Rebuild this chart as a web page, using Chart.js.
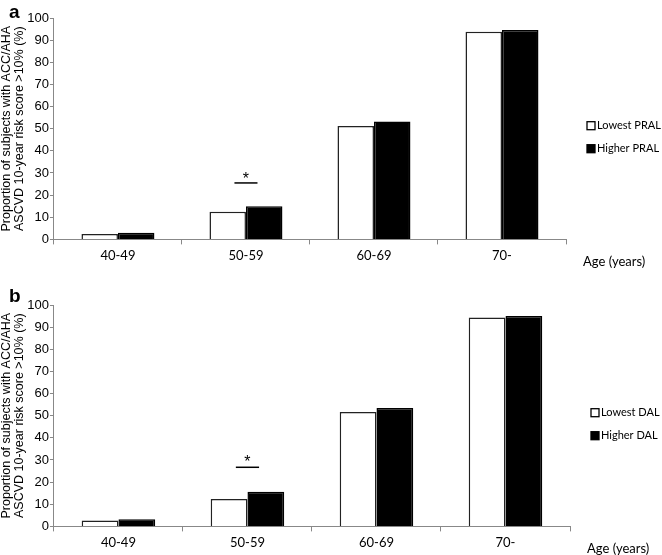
<!DOCTYPE html>
<html>
<head>
<meta charset="utf-8">
<script src="https://cdn.jsdelivr.net/npm/chart.js@4.4.0/dist/chart.umd.min.js"></script>
<style>
  body { margin: 0; background: #fff; }
  .panel { position: relative; width: 662px; }
</style>
</head>
<body>
<div class="panel" style="height:278px"><canvas id="chartA"></canvas></div>
<div class="panel" style="height:277px"><canvas id="chartB"></canvas></div>
<script>
// values (%)
const ageGroups = ['40-49', '50-59', '60-69', '70-'];
const lowestPral = [2.4, 12.5, 51.2, 93.8];
const higherPral = [3.0, 15.0, 53.2, 94.6];
const lowestDal = [2.7, 12.4, 51.7, 94.3];
const higherDal = [3.2, 15.6, 53.5, 95.0];
const yMax = 100;
const yStep = 10;
// significance mark over 50-59: [line level, star level] per panel
const sigGroup = 1;
const sigA = [25.5, 28.2];
const sigB = [26.7, 30.3];

const yTitle = ['Proportion of subjects with ACC/AHA', 'ASCVD 10-year risk score >10% (%)'];
const labelFont = "Lato, 'Open Sans', sans-serif";
const numFont = "'Liberation Sans', Arial, sans-serif";

const extras = {
  id: 'extras',
  afterDraw(chart, args, opts) {
    const ctx = chart.ctx;
    const area = chart.chartArea;
    const x = chart.scales.x;
    const y = chart.scales.y;
    ctx.save();
    // panel letter
    ctx.fillStyle = '#000';
    ctx.font = 'bold 19px ' + numFont;
    ctx.textBaseline = 'alphabetic';
    ctx.textAlign = 'left';
    ctx.fillText(opts.letter, 9, opts.letterY);
    // x axis title
    ctx.font = '13px ' + labelFont;
    ctx.textBaseline = 'middle';
    ctx.fillText('Age (years)', area.right + 17, area.bottom + 22);
    // legend, built from the datasets
    const midY = (area.top + area.bottom) / 2 + 8.5;
    const sets = chart.data.datasets;
    ctx.font = '11px ' + labelFont;
    sets.forEach((ds, i) => {
      const cy = midY + (i - (sets.length - 1) / 2) * 23;
      const bx = area.right + 21;
      ctx.fillStyle = ds.backgroundColor;
      ctx.fillRect(bx, cy - 4, 8, 8);
      ctx.strokeStyle = '#000';
      ctx.lineWidth = 1.3;
      ctx.strokeRect(bx, cy - 4, 8, 8);
      ctx.fillStyle = '#000';
      ctx.fillText(ds.label, bx + 10, cy);
    });
    // significance bar + star
    const cx = x.getPixelForValue(opts.group);
    const half = (x.getPixelForValue(1) - x.getPixelForValue(0)) * 0.09;
    const ly = y.getPixelForValue(opts.sig[0]);
    ctx.strokeStyle = '#000';
    ctx.lineWidth = 1.5;
    ctx.beginPath();
    ctx.moveTo(cx - half, ly);
    ctx.lineTo(cx + half, ly);
    ctx.stroke();
    ctx.font = '16px ' + numFont;
    ctx.textAlign = 'center';
    ctx.fillText('*', cx, y.getPixelForValue(opts.sig[1]) + 3);
    ctx.restore();
  }
};

function makeChart(id, lowVals, highVals, lowName, highName, letter, letterY, sig, pad) {
  return new Chart(document.getElementById(id), {
    type: 'bar',
    data: {
      labels: ageGroups,
      datasets: [
        { label: lowName, data: lowVals, backgroundColor: '#fff', borderColor: '#222', borderWidth: 1.5 },
        { label: highName, data: highVals, backgroundColor: '#000', borderColor: '#000', borderWidth: 1.5 }
      ]
    },
    options: {
      responsive: true,
      maintainAspectRatio: false,
      animation: false,
      datasets: { bar: { categoryPercentage: 0.57, barPercentage: 1.0 } },
      layout: { padding: pad },
      plugins: {
        legend: { display: false },
        tooltip: { enabled: false },
        extras: { letter: letter, letterY: letterY, group: sigGroup, sig: sig }
      },
      scales: {
        x: {
          grid: { display: true, drawOnChartArea: false, tickLength: 5, color: '#888', offset: true },
          border: { color: '#888' },
          ticks: { color: '#000', font: { family: labelFont, size: 13 }, padding: 4 }
        },
        y: {
          min: 0, max: yMax,
          grid: { display: true, drawOnChartArea: false, tickLength: 4, color: '#888' },
          border: { color: '#888' },
          ticks: { stepSize: yStep, color: '#000', font: { family: numFont, size: 13 }, padding: 1 },
          title: {
            display: true, text: yTitle, color: '#000',
            font: { family: numFont, size: 12.5, lineHeight: 1.05 }, padding: { top: 0, bottom: 0 }
          }
        }
      }
    },
    plugins: [extras]
  });
}

makeChart('chartA', lowestPral, higherPral, 'Lowest PRAL', 'Higher PRAL', 'a', 18, sigA,
  { top: 18, bottom: 10, left: 0, right: 96 });
makeChart('chartB', lowestDal, higherDal, 'Lowest DAL', 'Higher DAL', 'b', 24, sigB,
  { top: 27, bottom: 0, left: 0, right: 92 });
</script>
</body>
</html>
